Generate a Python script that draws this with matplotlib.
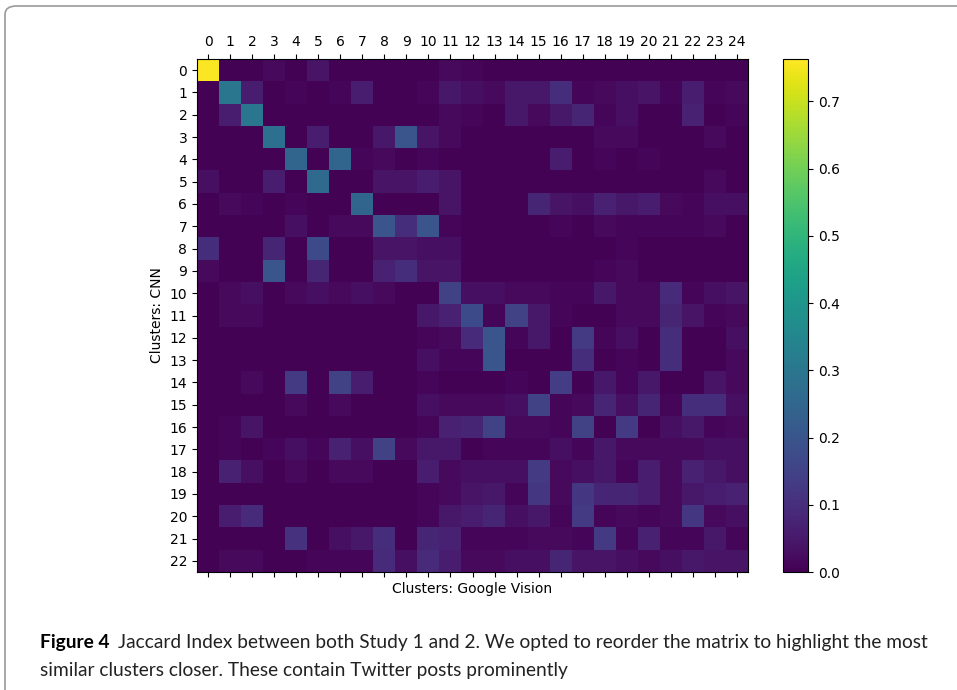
import numpy as np
import matplotlib
matplotlib.use('Agg')
import matplotlib.pyplot as plt
from matplotlib.patches import FancyBboxPatch

# Jaccard index, rows = CNN clusters (0-22), cols = Google Vision clusters (0-24)
row_labels = [str(i) for i in range(23)]
col_labels = [str(i) for i in range(25)]

jaccard = [
    [0.76, .005, .005, .02, .005, .04, .005, .005, .005, .005, .005, .02, .01, .005, .005, .005, .005, .005, .005, .005, .005, .005, .005, .005, .005],
    [.005, 0.30, .06, .005, .01, .005, .01, .06, .005, .005, .01, .05, .03, .02, .05, .05, .10, .01, .02, .03, .04, .01, .06, .01, .02],
    [.005, .06, 0.30, .005, .005, .005, .005, .005, .005, .005, .005, .02, .01, .005, .05, .02, .05, .08, .01, .03, .005, .005, .07, .005, .01],
    [.005, .005, .005, 0.28, .005, .06, .005, .005, .05, .20, .04, .02, .005, .005, .005, .005, .005, .005, .02, .02, .005, .005, .005, .02, .005],
    [.005, .005, .005, .005, 0.25, .005, 0.25, .01, .02, .005, .01, .005, .005, .005, .005, .005, .06, .005, .01, .005, .01, .005, .005, .005, .005],
    [.03, .005, .005, .06, .005, 0.26, .005, .005, .04, .04, .06, .04, .005, .005, .005, .005, .005, .005, .005, .005, .005, .005, .005, .02, .005],
    [.005, .02, .01, .005, .01, .005, .005, 0.25, .005, .005, .005, .04, .005, .005, .005, .08, .04, .03, .07, .05, .06, .02, .01, .03, .03],
    [.005, .005, .005, .005, .03, .005, .02, .02, 0.20, .10, 0.20, .01, .005, .005, .005, .005, .01, .005, .02, .01, .01, .01, .01, .02, .005],
    [.10, .005, .005, .08, .005, .17, .005, .005, .04, .04, .03, .03, .005, .005, .005, .005, .005, .005, .005, .01, .005, .005, .005, .005, .005],
    [.02, .005, .005, .20, .005, .08, .005, .005, .07, .10, .04, .04, .005, .005, .005, .005, .005, .005, .01, .02, .005, .005, .005, .005, .005],
    [.005, .02, .03, .005, .02, .03, .02, .03, .02, .005, .005, .15, .03, .03, .02, .02, .01, .01, .05, .02, .02, .09, .01, .03, .04],
    [.005, .02, .02, .005, .005, .005, .005, .005, .005, .005, .05, .07, .17, .01, .15, .05, .01, .005, .005, .02, .02, .08, .04, .01, .02],
    [.005, .005, .005, .005, .005, .005, .005, .005, .005, .005, .01, .02, .09, .20, .01, .05, .005, .13, .01, .03, .005, .10, .005, .005, .03],
    [.005, .005, .005, .005, .005, .005, .005, .005, .005, .005, .03, .01, .01, .20, .005, .005, .005, .10, .005, .01, .005, .10, .005, .005, .02],
    [.005, .005, .02, .005, .13, .005, .15, .06, .005, .005, .01, .005, .005, .005, .01, .005, .14, .005, .05, .01, .05, .005, .005, .04, .02],
    [.005, .005, .005, .005, .02, .005, .02, .005, .005, .005, .03, .02, .02, .02, .03, .15, .01, .02, .08, .03, .08, .01, .10, .10, .03],
    [.005, .01, .04, .005, .005, .005, .005, .005, .005, .005, .01, .07, .08, .15, .02, .02, .01, .15, .005, .13, .005, .03, .05, .01, .02],
    [.005, .01, .005, .01, .03, .01, .07, .03, .15, .02, .05, .05, .005, .01, .01, .01, .03, .01, .05, .02, .02, .02, .02, .03, .03],
    [.005, .07, .03, .005, .02, .005, .02, .02, .005, .005, .06, .02, .03, .03, .03, .13, .02, .03, .05, .01, .06, .02, .07, .05, .03],
    [.005, .005, .005, .005, .005, .005, .005, .005, .005, .005, .01, .02, .04, .05, .01, .12, .02, .12, .08, .08, .06, .02, .05, .06, .07],
    [.005, .06, .09, .005, .005, .005, .005, .005, .005, .005, .01, .05, .06, .08, .03, .05, .01, .13, .01, .02, .01, .02, .12, .02, .03],
    [.005, .005, .005, .005, .11, .005, .03, .05, .10, .005, .08, .07, .01, .01, .01, .02, .02, .01, .13, .01, .07, .01, .01, .05, .01],
    [.005, .02, .02, .005, .005, .01, .01, .01, .09, .03, .09, .06, .02, .02, .03, .03, .08, .04, .04, .03, .02, .03, .05, .04, .04],
]

caption_title = 'Figure 4'
caption_line1 = 'Jaccard Index between both Study 1 and 2. We opted to reorder the matrix to highlight the most'
caption_line2 = 'similar clusters closer. These contain Twitter posts prominently'

fig = plt.figure(figsize=(9.57, 6.9), dpi=100)

# grey rounded frame around the figure panel
frame = FancyBboxPatch((5 / 957, -0.05), 1.05, 0.05 + 684 / 690,
                       boxstyle="round,pad=0,rounding_size=0.012",
                       transform=fig.transFigure, fill=False,
                       edgecolor='#9a9a9a', linewidth=1.2, clip_on=False)
fig.patches.append(frame)

ax = fig.add_axes([197 / 957, 118 / 690, 551 / 957, 513 / 690])
im = ax.imshow(np.array(jaccard), cmap='viridis', vmin=0, vmax=0.763, aspect='auto')

ax.set_xticks(range(len(col_labels)))
ax.set_yticks(range(len(row_labels)))
ax.set_yticklabels(row_labels, fontsize=10)
ax.tick_params(axis='x', top=True, bottom=True, labeltop=True, labelbottom=False, labelsize=10)
ax.set_xticklabels(col_labels)
ax.set_xlabel('Clusters: Google Vision', fontsize=10)
ax.set_ylabel('Clusters: CNN', fontsize=10)

cax = fig.add_axes([783 / 957, 118 / 690, 25 / 957, 513 / 690])
cb = fig.colorbar(im, cax=cax)
cb.set_ticks([0.0, 0.1, 0.2, 0.3, 0.4, 0.5, 0.6, 0.7])
cb.ax.tick_params(labelsize=10)

# caption: bold lead-in, then the rest placed right after it
cap_size = 13.8
t = fig.text(40 / 957, 1 - 648 / 690, caption_title, fontsize=cap_size, family='Lato',
             fontweight='bold', va='baseline')
fig.canvas.draw()
bb = t.get_window_extent(renderer=fig.canvas.get_renderer())
fig.text((bb.x1 + 8) / 957, 1 - 648 / 690, caption_line1, fontsize=cap_size, family='Lato',
         va='baseline', color='#222222')
fig.text(40 / 957, 1 - 676 / 690, caption_line2, fontsize=cap_size, family='Lato',
         va='baseline', color='#222222')

plt.savefig('out.png', dpi=100)
